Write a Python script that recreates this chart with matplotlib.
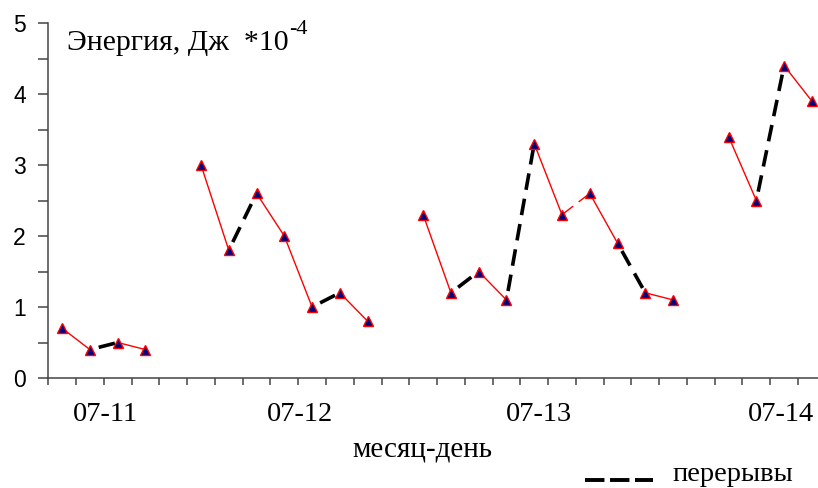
import matplotlib
matplotlib.use("Agg")
import matplotlib.pyplot as plt
from matplotlib.lines import Line2D
import numpy as np

# time slots (one tick = one slot) and energy values, x10^-4 J
slots_0711 = [0, 1, 2, 3]
energy_0711 = [0.7, 0.4, 0.5, 0.4]
slots_0712 = [5, 6, 7, 8, 9, 10, 11]
energy_0712 = [3.0, 1.8, 2.6, 2.0, 1.0, 1.2, 0.8]
slots_0713 = [13, 14, 15, 16, 17, 18, 19, 20, 21, 22]
energy_0713 = [2.3, 1.2, 1.5, 1.1, 3.3, 2.3, 2.6, 1.9, 1.2, 1.1]
slots_0714 = [24, 25, 26, 27]
energy_0714 = [3.4, 2.5, 4.4, 3.9]

# segments drawn as breaks (перерывы) and a red segment with a gap
break_pairs = [(1, 2), (6, 7), (9, 10), (14, 15), (16, 17), (20, 21), (25, 26)]
gap_pairs = [(18, 19)]

day_labels = ["07-11", "07-12", "07-13", "07-14"]
day_label_slots = [2.05, 9.07, 17.67, 26.4]

SERIF = ["Liberation Serif", "DejaVu Serif"]
SANS = ["Liberation Sans", "DejaVu Sans"]
W, H = 818, 488


def px(x, y):
    return x / W, 1 - y / H


def main():
    plt.rcParams["lines.scale_dashes"] = False
    fig = plt.figure(figsize=(W / 100, H / 100), dpi=100)
    ax = fig.add_axes([48.3 / W, 1 - 378 / H, (W - 48.3) / W, 355 / H])

    groups = [(slots_0711, energy_0711), (slots_0712, energy_0712),
              (slots_0713, energy_0713), (slots_0714, energy_0714)]

    for slots, energy in groups:
        x = np.array(slots) + 0.5
        y = np.array(energy)
        for i in range(len(x) - 1):
            pair = (slots[i], slots[i + 1])
            xs, ys = x[i:i + 2], y[i:i + 2]
            if pair in break_pairs:
                ax.plot(xs, ys, color="black", lw=2.6,
                        linestyle=(12, (12, 6.5)), solid_capstyle="butt", zorder=2)
            elif pair in gap_pairs:
                for a, b in [(0.0, 0.38), (0.62, 1.0)]:
                    ax.plot([xs[0] + a * (xs[1] - xs[0]), xs[0] + b * (xs[1] - xs[0])],
                            [ys[0] + a * (ys[1] - ys[0]), ys[0] + b * (ys[1] - ys[0])],
                            color="red", lw=1.0, zorder=2)
            else:
                ax.plot(xs, ys, color="red", lw=1.0, zorder=2)
        ax.plot(x, y, linestyle="none", marker="^", markersize=7.2,
                markerfacecolor="#000080", markeredgecolor="red",
                markeredgewidth=1.0, zorder=3, clip_on=False)

    ax.set_xlim(0, 27.72)
    ax.set_ylim(0, 5)

    for side in ["top", "right"]:
        ax.spines[side].set_visible(False)
    for side in ["left", "bottom"]:
        ax.spines[side].set_color("#444444")
        ax.spines[side].set_linewidth(1.1)

    ax.set_yticks(np.arange(0, 6))
    ax.set_yticks(np.arange(0.5, 5, 1.0), minor=True)
    ax.set_yticklabels([str(v) for v in range(6)], fontfamily=SANS, fontsize=16.5)
    ax.tick_params(axis="y", which="both", direction="out", length=7.2,
                   width=1.1, color="#444444", pad=9)

    ax.set_xticks(day_label_slots)
    ax.set_xticklabels(day_labels, fontfamily=SERIF, fontsize=20.5)
    ax.set_xticks(np.arange(0, 28), minor=True)
    ax.tick_params(axis="x", which="major", length=0, pad=17)
    ax.tick_params(axis="x", which="minor", direction="out", length=5,
                   width=1.1, color="#444444")

    # title inside the axes, superscript placed right after it
    title = fig.text(*px(67, 50), "Энергия, Дж  *10", fontfamily=SERIF,
                     fontsize=21.5, ha="left", va="baseline")
    fig.canvas.draw()
    bb = title.get_window_extent()
    fig.text(bb.x1 / W + 1 / W, 1 - 34 / H, "-4", fontfamily=SERIF, fontsize=16,
             ha="left", va="baseline")

    fig.text(*px(422, 450), "месяц-день", fontfamily=SERIF, fontsize=21,
             ha="center", va="center")

    fig.add_artist(Line2D([585 / W, 653 / W], [1 - 480 / H, 1 - 480 / H],
                          color="black", lw=2.8, linestyle=(0, (14, 4)),
                          solid_capstyle="butt"))
    fig.text(*px(672, 481), "перерывы", fontfamily=SERIF, fontsize=20.5,
             ha="left", va="baseline")

    fig.savefig("out.png", dpi=100)


if __name__ == "__main__":
    main()
